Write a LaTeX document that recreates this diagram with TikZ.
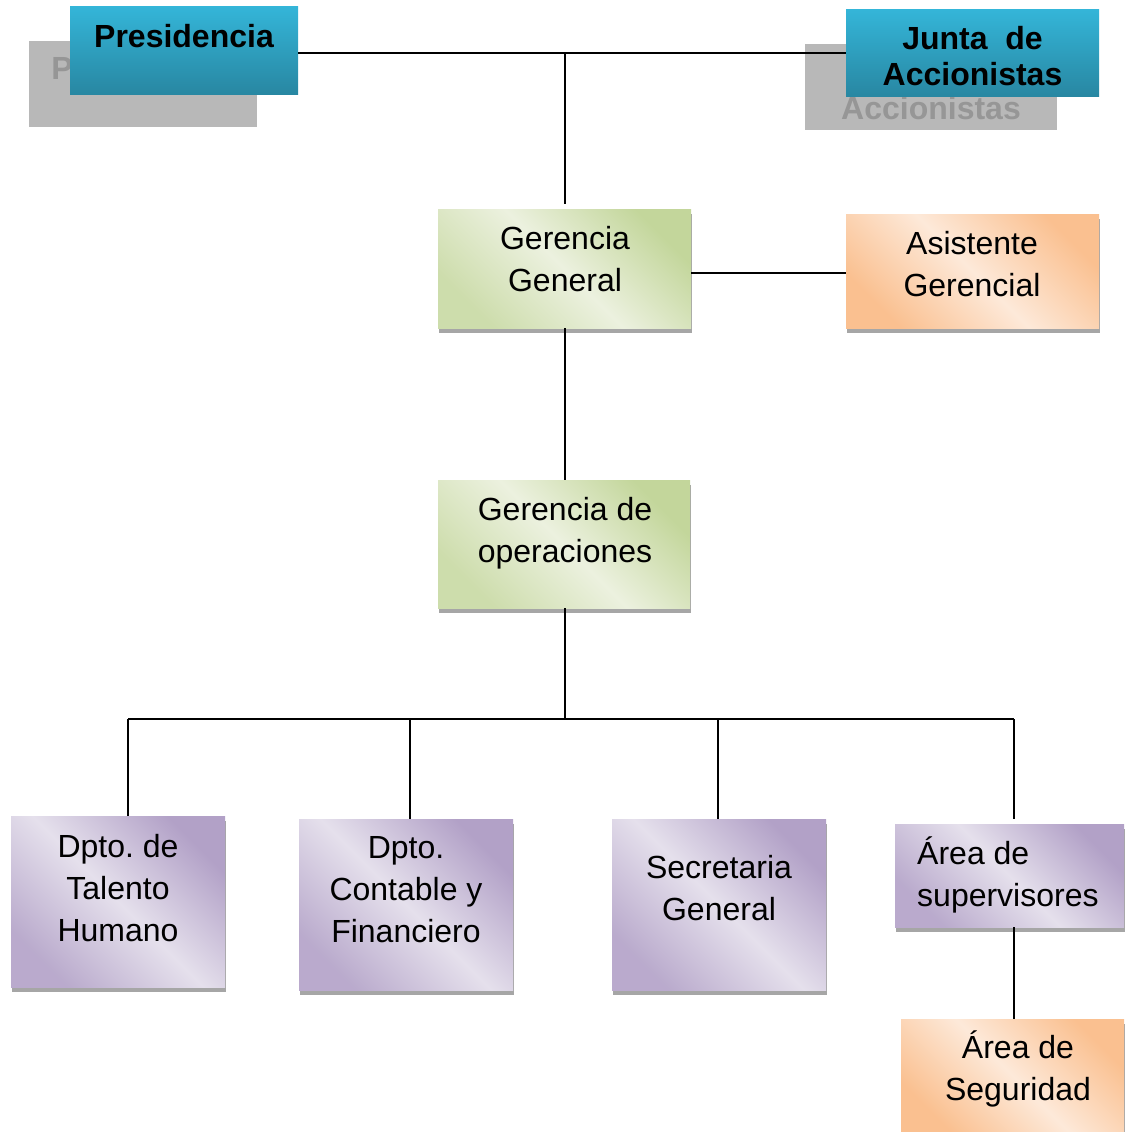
\documentclass[tikz,border=0pt]{standalone}
\usepackage{fontspec}
\setmainfont{Liberation Sans}
\usetikzlibrary{shadows}
\frenchspacing
\definecolor{grnD}{RGB}{195,214,155}
\definecolor{grnL}{RGB}{236,241,223}
\definecolor{purD}{RGB}{178,161,199}
\definecolor{purL}{RGB}{229,224,236}
\definecolor{orgD}{RGB}{250,192,144}
\definecolor{orgL}{RGB}{253,233,217}
\definecolor{bluT}{RGB}{52,181,216}
\definecolor{bluB}{RGB}{40,135,162}
\definecolor{ghost}{RGB}{184,184,184}
\definecolor{ghostTxt}{RGB}{150,150,150}
\definecolor{shd}{RGB}{166,166,166}
\begin{document}
\begin{tikzpicture}[x=1pt,y=-1pt,
  box/.style={rectangle, inner sep=0pt, draw=none},
  sh/.style={drop shadow={shadow xshift=1pt, shadow yshift=-5pt, fill=shd, opacity=1}},
  greenbox/.style={box, sh, top color=grnD, bottom color=grnD!75!grnL, middle color=grnL, shading angle=-45},
  purplebox/.style={box, sh, top color=purD, bottom color=purD!85!purL, middle color=purL, shading angle=-45},
  orangebox/.style={box, sh, top color=orgD, bottom color=orgD, middle color=orgL, shading angle=-45},
  bluebox/.style={box, top color=bluT, bottom color=bluB},
  ghostbox/.style={box, fill=ghost},
  txt/.style={inner sep=0pt, align=center, font=\fontsize{32}{42}\selectfont},
  btxt/.style={inner sep=0pt, align=center, font=\fontsize{32}{36}\selectfont\bfseries},
  gtxt/.style={btxt, text=ghostTxt},
  link/.style={line width=2pt, black}]
\useasboundingbox (0,0) rectangle (1124,1132);

% ghost boxes
\node[ghostbox, minimum width=228pt, minimum height=86pt] (presG) at (143,84) {};
\node[gtxt] (presGt) at (62,68) {P};
\node[ghostbox, minimum width=252pt, minimum height=86pt] (juntaG) at (931,87) {};
\node[gtxt] (juntaGt) at (931,108) {Accionistas};

% top boxes
\node[bluebox, minimum width=228pt, minimum height=87pt] (pres) at (184,50.5) {};
\node[btxt] (prest) at (184,36) {Presidencia};
\node[bluebox, minimum width=253pt, minimum height=86pt] (junta) at (972.5,53) {};
\node[btxt] (juntat) at (972.5,56) {Junta~ de\\Accionistas};

% management
\node[greenbox, minimum width=253pt, minimum height=119pt] (gg) at (564.5,268.5) {};
\node[txt] (ggt) at (565,259) {Gerencia\\General};
\node[orangebox, minimum width=253pt, minimum height=114pt] (asis) at (972.5,271) {};
\node[txt] (asist) at (972,264) {Asistente\\Gerencial};
\node[greenbox, minimum width=252pt, minimum height=128pt] (go) at (564,544) {};
\node[txt] (got) at (565,533) {Gerencia de\\operaciones};

% departments
\node[purplebox, minimum width=214pt, minimum height=171pt] (th) at (118,901.5) {};
\node[txt] (tht) at (118,888) {Dpto. de\\Talento\\Humano};
\node[purplebox, minimum width=214pt, minimum height=171pt] (cf) at (406,904.5) {};
\node[txt] (cft) at (406,890) {Dpto.\\Contable y\\Financiero};
\node[purplebox, minimum width=214pt, minimum height=171pt] (sg) at (719,904.5) {};
\node[txt] (sgt) at (719,888) {Secretaria\\General};
\node[purplebox, minimum width=229pt, minimum height=103pt] (sup) at (1009.5,875.5) {};
\node[txt, align=left, anchor=west] (supt) at (917,875) {Área de\\supervisores};
\node[orangebox, minimum width=223pt, minimum height=113pt] (seg) at (1012.5,1075.5) {};
\node[txt] (segt) at (1018,1069) {Área de\\Seguridad};

% connectors
\coordinate (j1) at (565,53);
\coordinate (j2) at (565,719);
\coordinate (d1) at (128,719);
\coordinate (d2) at (410,719);
\coordinate (d3) at (718,719);
\coordinate (d4) at (1014,719);
\draw[link] (pres.east |- j1) -- (junta.west |- j1);
\draw[link] (j1) -- ([yshift=5pt]gg.north -| j1);
\draw[link] (gg.east |- 0,273) -- (asis.west |- 0,273);
\draw[link] (gg.south -| j1) -- (go.north -| j1);
\draw[link] (go.south -| j1) -- (j2);
\draw[link] (d1) -- (d4);
\draw[link] (d1) -- (d1 |- th.north);
\draw[link] (d2) -- (d2 |- cf.north);
\draw[link] (d3) -- (d3 |- sg.north);
\draw[link] (d4) -- ([yshift=5pt]d4 |- sup.north);
\draw[link] (d4 |- sup.south) -- (d4 |- seg.north);
\end{tikzpicture}
\end{document}
